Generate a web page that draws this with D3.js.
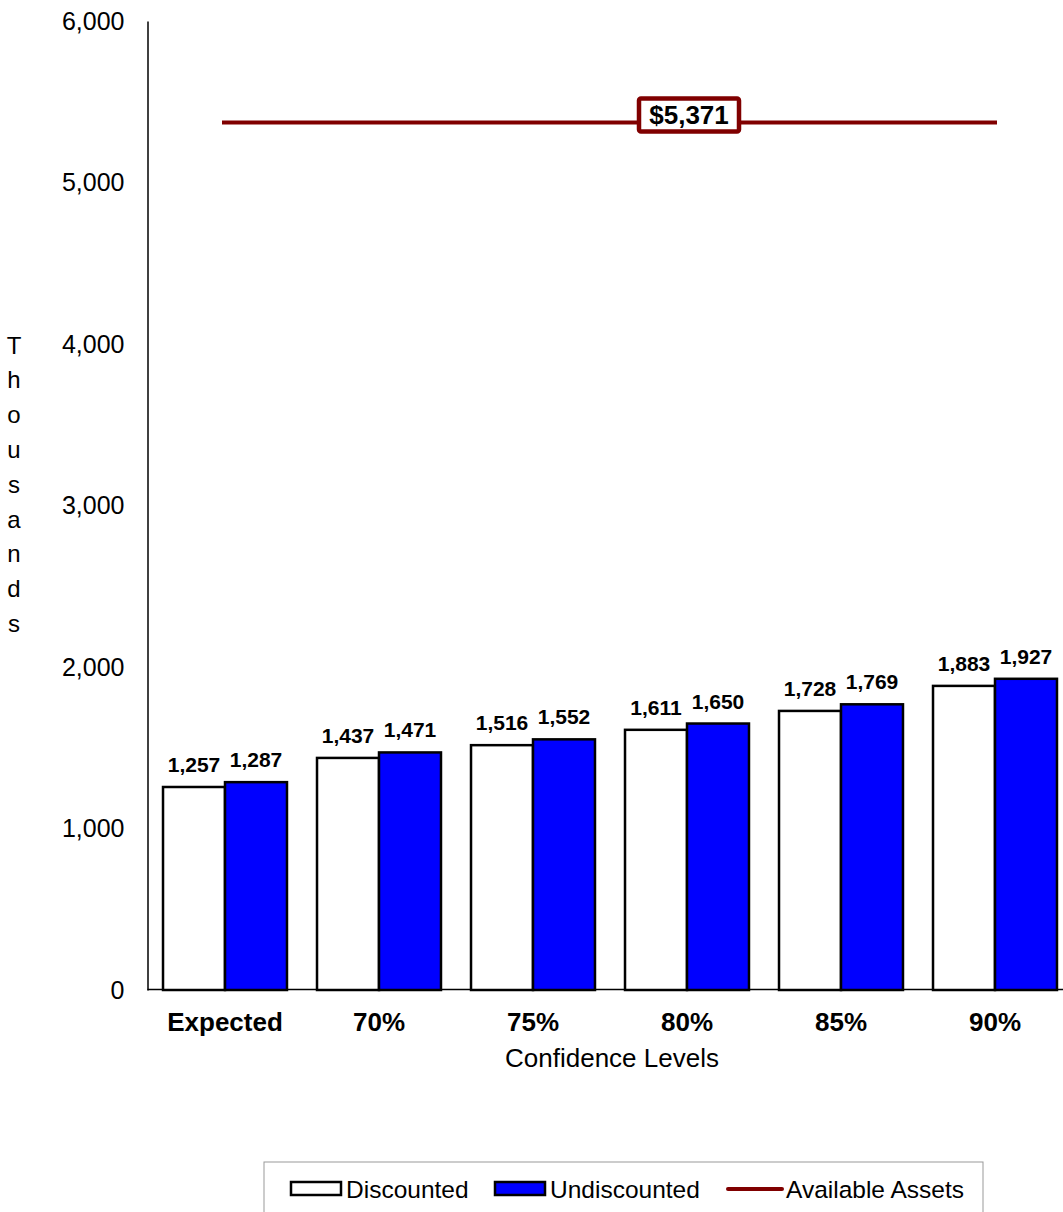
<!DOCTYPE html>
<html>
<head>
<meta charset="utf-8">
<script src="https://cdn.jsdelivr.net/npm/d3@7"></script>
<style>
  body { margin: 0; background: #fff; }
  svg { display: block; font-family: Arial, "Liberation Sans", sans-serif; }
</style>
</head>
<body>
<div id="chart"></div>
<script>
const categories = ["Expected", "70%", "75%", "80%", "85%", "90%"];
const seriesNames = ["Discounted", "Undiscounted"];
const discounted = [1257, 1437, 1516, 1611, 1728, 1883];
const undiscounted = [1287, 1471, 1552, 1650, 1769, 1927];
const availableAssets = 5371;
const yTicks = [0, 1000, 2000, 3000, 4000, 5000, 6000];
const yLabel = "Thousands";
const xLabel = "Confidence Levels";
const lineName = "Available Assets";

const W = 1063, H = 1212;
const colors = { Discounted: "#ffffff", Undiscounted: "#0000ff" };
const lineColor = "#800000";
const FONT = "Arial, 'Liberation Sans', sans-serif";

const svg = d3.select("#chart").append("svg").attr("width", W).attr("height", H);

const y = d3.scaleLinear().domain([0, 6000]).range([990, 21]);
const x0 = d3.scaleBand().domain(categories).range([148, 1072]).paddingInner(0.195).paddingOuter(0.0975);
const x1 = d3.scaleBand().domain(seriesNames).range([0, x0.bandwidth()]);
const fmt = d3.format(",");

const data = categories.map((c, i) => ({ cat: c, values: [
  { key: "Discounted", v: discounted[i] },
  { key: "Undiscounted", v: undiscounted[i] }
]}));

// Y axis
const yAxis = d3.axisLeft(y).tickValues(yTicks).tickSize(0).tickPadding(23).tickFormat(fmt);
const gy = svg.append("g").attr("transform", "translate(147.5,0)").call(yAxis);
gy.select(".domain").attr("stroke", "#000").attr("stroke-width", 1.5);
gy.selectAll("text").attr("font-size", 25).attr("fill", "#000").attr("font-family", FONT);

// X axis
const xAxis = d3.axisBottom(x0).tickSize(0).tickPadding(23);
const gx = svg.append("g").attr("transform", "translate(0,989.5)").call(xAxis);
gx.select(".domain").attr("stroke", "#000").attr("stroke-width", 1.5).attr("d", "M147.5,0H1072");
gx.selectAll("text").attr("font-size", 26).attr("font-weight", "bold").attr("fill", "#000")
  .attr("font-family", FONT);

// Bars
const groups = svg.append("g").selectAll("g").data(data).join("g")
  .attr("transform", d => `translate(${x0(d.cat)},0)`);
groups.selectAll("rect").data(d => d.values).join("rect")
  .attr("x", d => x1(d.key))
  .attr("y", d => y(d.v))
  .attr("width", x1.bandwidth())
  .attr("height", d => y(0) - y(d.v))
  .attr("fill", d => colors[d.key])
  .attr("stroke", "#000").attr("stroke-width", 2.5);
groups.selectAll("text").data(d => d.values).join("text")
  .attr("x", d => x1(d.key) + x1.bandwidth() / 2)
  .attr("y", d => y(d.v) - 15)
  .attr("text-anchor", "middle")
  .attr("font-size", 21).attr("font-weight", "bold")
  .text(d => fmt(d.v));

// Available assets line
const lx1 = x0(categories[0]) + x0.bandwidth() / 2 - 3;
const lx2 = x0(categories[categories.length - 1]) + x0.bandwidth() / 2 + 2;
svg.append("line").attr("x1", lx1).attr("x2", lx2)
  .attr("y1", y(availableAssets)).attr("y2", y(availableAssets))
  .attr("stroke", lineColor).attr("stroke-width", 4);
const lblCx = 689, lblCy = y(availableAssets) - 8;
svg.append("rect").attr("x", lblCx - 50).attr("y", lblCy - 16).attr("width", 100).attr("height", 33)
  .attr("rx", 2).attr("fill", "#fff").attr("stroke", lineColor).attr("stroke-width", 4.5);
svg.append("text").attr("x", lblCx).attr("y", lblCy + 9.5).attr("text-anchor", "middle")
  .attr("font-size", 26).attr("font-weight", "bold").text("$" + fmt(availableAssets));

// Y label (stacked letters)
svg.append("g").selectAll("text").data(yLabel.split("")).join("text")
  .attr("x", 14).attr("y", (d, i) => 345 + i * 34.8)
  .attr("text-anchor", "middle").attr("dominant-baseline", "central")
  .attr("font-size", 24).text(d => d);

// X label
svg.append("text").attr("x", 612).attr("y", 1067).attr("text-anchor", "middle")
  .attr("font-size", 26).text(xLabel);

// Legend
const lg = svg.append("g");
lg.append("rect").attr("x", 264).attr("y", 1162).attr("width", 719).attr("height", 80)
  .attr("fill", "#fff").attr("stroke", "#999").attr("stroke-width", 1);
const legendItems = [
  { name: "Discounted", type: "rect", x: 291 },
  { name: "Undiscounted", type: "rect", x: 495 },
  { name: lineName, type: "line", x: 728 }
];
legendItems.forEach(it => {
  if (it.type === "rect") {
    lg.append("rect").attr("x", it.x).attr("y", 1182).attr("width", 50).attr("height", 13)
      .attr("fill", colors[it.name]).attr("stroke", "#000").attr("stroke-width", 2.5);
    lg.append("text").attr("x", it.x + 55).attr("y", 1198).attr("font-size", 24.5).text(it.name);
  } else {
    lg.append("line").attr("x1", it.x).attr("x2", it.x + 54).attr("y1", 1189).attr("y2", 1189)
      .attr("stroke", lineColor).attr("stroke-width", 4).attr("stroke-linecap", "round");
    lg.append("text").attr("x", it.x + 58).attr("y", 1198).attr("font-size", 24.5).text(it.name);
  }
});
</script>
</body>
</html>
